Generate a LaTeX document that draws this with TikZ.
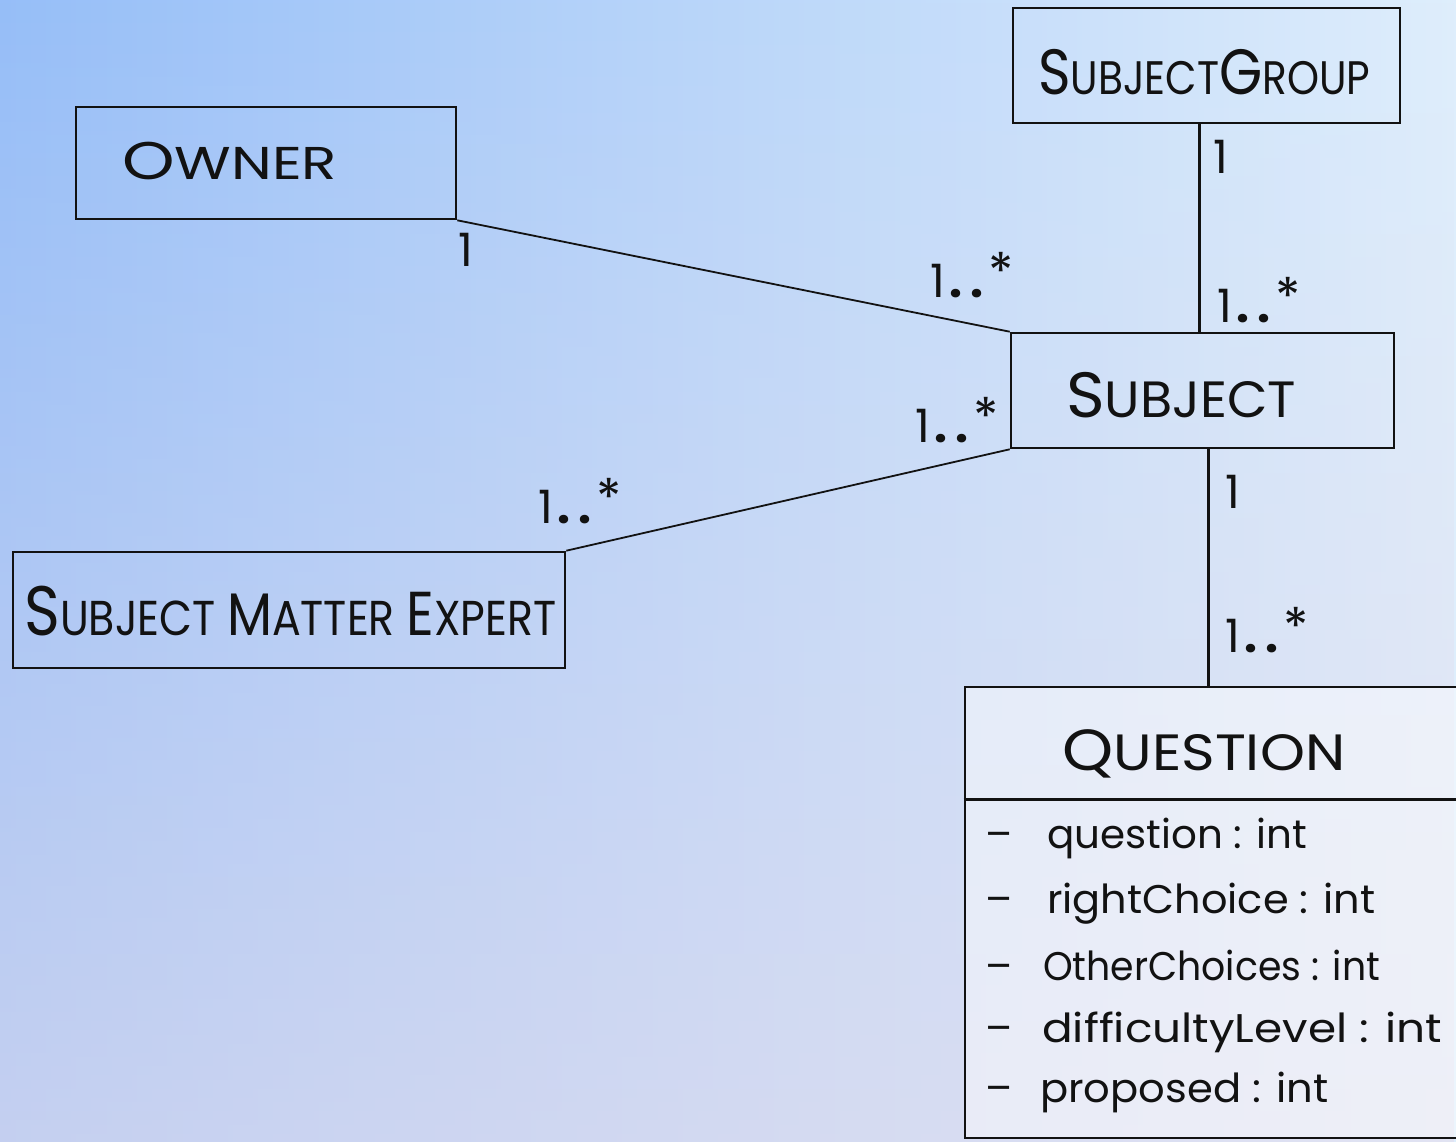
\documentclass[tikz,border=0pt]{standalone}
\usepackage{fontspec}
\usepackage{graphicx}
\setmainfont{Poppins}
\usetikzlibrary{fadings}
\definecolor{bgTL}{RGB}{150,190,248}
\definecolor{bgTR}{RGB}{222,238,252}
\definecolor{bgB}{RGB}{228,220,236}
\definecolor{ink}{RGB}{18,18,18}
\newcommand\fs[1]{\fontsize{#1}{#1}\selectfont}
\newcommand\wfit[2]{\resizebox{#1}{\height}{#2}}
\newcommand\multstar{\fs{46}1\kern5pt\textbf{.}\kern8pt\textbf{.}\kern5pt\raisebox{7pt}{\fs{52}*}}
\begin{document}
\begin{tikzpicture}[x=1pt,y=-1pt,
  box/.style={draw=ink,line width=2.6pt,rectangle,inner sep=0pt},
  lbl/.style={anchor=base west,inner sep=0pt,text=ink},
  conn/.style={draw=ink,line width=1.8pt},
  vconn/.style={draw=ink,line width=2.4pt},
]
\useasboundingbox (0,0) rectangle (1456,1142);
\shade[left color=bgTL,right color=bgTR] (0,0) rectangle (1456,1142);
\fill[bgB,fill opacity=0.6,path fading=north] (0,0) rectangle (1456,1142);
\clip (0,0) rectangle (1456,1142);

% boxes
\node[box,minimum width=387pt,minimum height=115pt] (sg) at (1206.5,65.5) {};
\node[box,minimum width=380pt,minimum height=112pt] (own) at (266,163) {};
\node[box,minimum width=383pt,minimum height=115pt] (subj) at (1202.5,390.5) {};
\node[box,minimum width=552pt,minimum height=116pt] (sme) at (289,610) {};
\node[box,fill=white,fill opacity=0.45,minimum width=505pt,minimum height=451pt] (q) at (1217.5,912.5) {};
\draw[box] ([yshift=-114pt]q.north west) -- ([yshift=-114pt]q.north east);

% connectors
\draw[conn] (own.south east) -- (subj.north west);
\draw[conn] (subj.south west) -- (sme.north east);
\draw[vconn] ([xshift=-7pt]sg.south) -- ([xshift=-7pt]sg.south |- subj.north);
\draw[vconn] ([xshift=6pt]subj.south) -- ([xshift=6pt]subj.south |- q.north);

% titles
\node[lbl] (sgT) at (1038,95) {\wfit{332pt}{\fs{64}S\fs{47}UBJECT\fs{64}G\fs{47}ROUP}};
\node[lbl] (ownT) at (122,179) {\wfit{215pt}{\fs{53}O\fs{46}WNER}};
\node[lbl] (subjT) at (1066,417) {\wfit{230pt}{\fs{64}S\fs{51}UBJECT}};
\node[lbl] (smeT) at (24,635) {\wfit{532pt}{\fs{70}S\fs{49}UBJECT \fs{60}M\fs{49}ATTER \fs{62}E\fs{49}XPERT}};
\node[lbl] (qT) at (1062,770) {\wfit{283pt}{\fs{58}Q\fs{51}UESTION}};

% attributes
\node[lbl] (d1) at (985,848) {\fs{40}\textendash};
\node[lbl] (d2) at (985,913) {\fs{40}\textendash};
\node[lbl] (d3) at (985,980) {\fs{40}\textendash};
\node[lbl] (d4) at (985,1042) {\fs{40}\textendash};
\node[lbl] (d5) at (985,1102) {\fs{40}\textendash};
\node[lbl] (a1) at (1047,848) {\wfit{260pt}{\fs{40}question : int}};
\node[lbl] (a2) at (1047,913) {\wfit{328pt}{\fs{40}rightChoice : int}};
\node[lbl] (a3) at (1043,980) {\wfit{337pt}{\fs{40}OtherChoices : int}};
\node[lbl] (a4) at (1042,1042) {\wfit{400pt}{\fs{40}difficultyLevel : int}};
\node[lbl] (a5) at (1040,1102) {\wfit{288pt}{\fs{40}proposed : int}};

% multiplicities
\node[lbl] (m1) at (458,266) {\fs{46}1};
\node[lbl] (m2) at (930,297) {\multstar};
\node[lbl] (m3) at (1213,174) {\fs{46}1};
\node[lbl] (m4) at (1217,322) {\multstar};
\node[lbl] (m5) at (915,442) {\multstar};
\node[lbl] (m6) at (538,523) {\multstar};
\node[lbl] (m7) at (1225,508) {\fs{46}1};
\node[lbl] (m8) at (1225,652) {\multstar};
\end{tikzpicture}
\end{document}
